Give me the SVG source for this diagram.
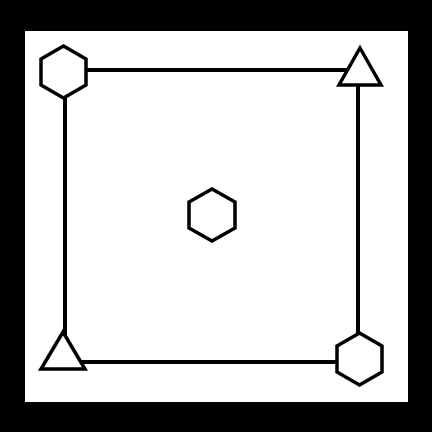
<svg xmlns="http://www.w3.org/2000/svg" width="432" height="432" viewBox="0 0 432 432">
<style>
.edge{stroke:#000;stroke-width:4;fill:none}
.shape{fill:#fff;stroke:#000;stroke-width:3.5;stroke-linejoin:miter}
</style>
<rect x="0" y="0" width="432" height="432" fill="#000"/>
<rect x="25" y="31" width="383" height="371" fill="#fff"/>
<g id="connectors">
<line class="edge" x1="64" y1="70" x2="358" y2="70"/>
<line class="edge" x1="358" y1="70" x2="358" y2="358"/>
<line class="edge" x1="65" y1="362" x2="358" y2="362"/>
<line class="edge" x1="65" y1="72" x2="65" y2="362"/>
</g>
<g id="hex-top-left"><polygon class="shape" points="63.5,46 86,59 86,85 63.5,98 41,85 41,59"/></g>
<g id="tri-top-right"><polygon class="shape" points="360,48 381,85 339,85"/></g>
<g id="hex-center"><polygon class="shape" points="212,189 235,202 235,228 212,241 189,228 189,202"/></g>
<g id="tri-bottom-left"><polygon class="shape" points="63,332 85,369 41,369"/></g>
<g id="hex-bottom-right"><polygon class="shape" points="359.5,333 382,346 382,372 359.5,385 337,372 337,346"/></g>
</svg>
